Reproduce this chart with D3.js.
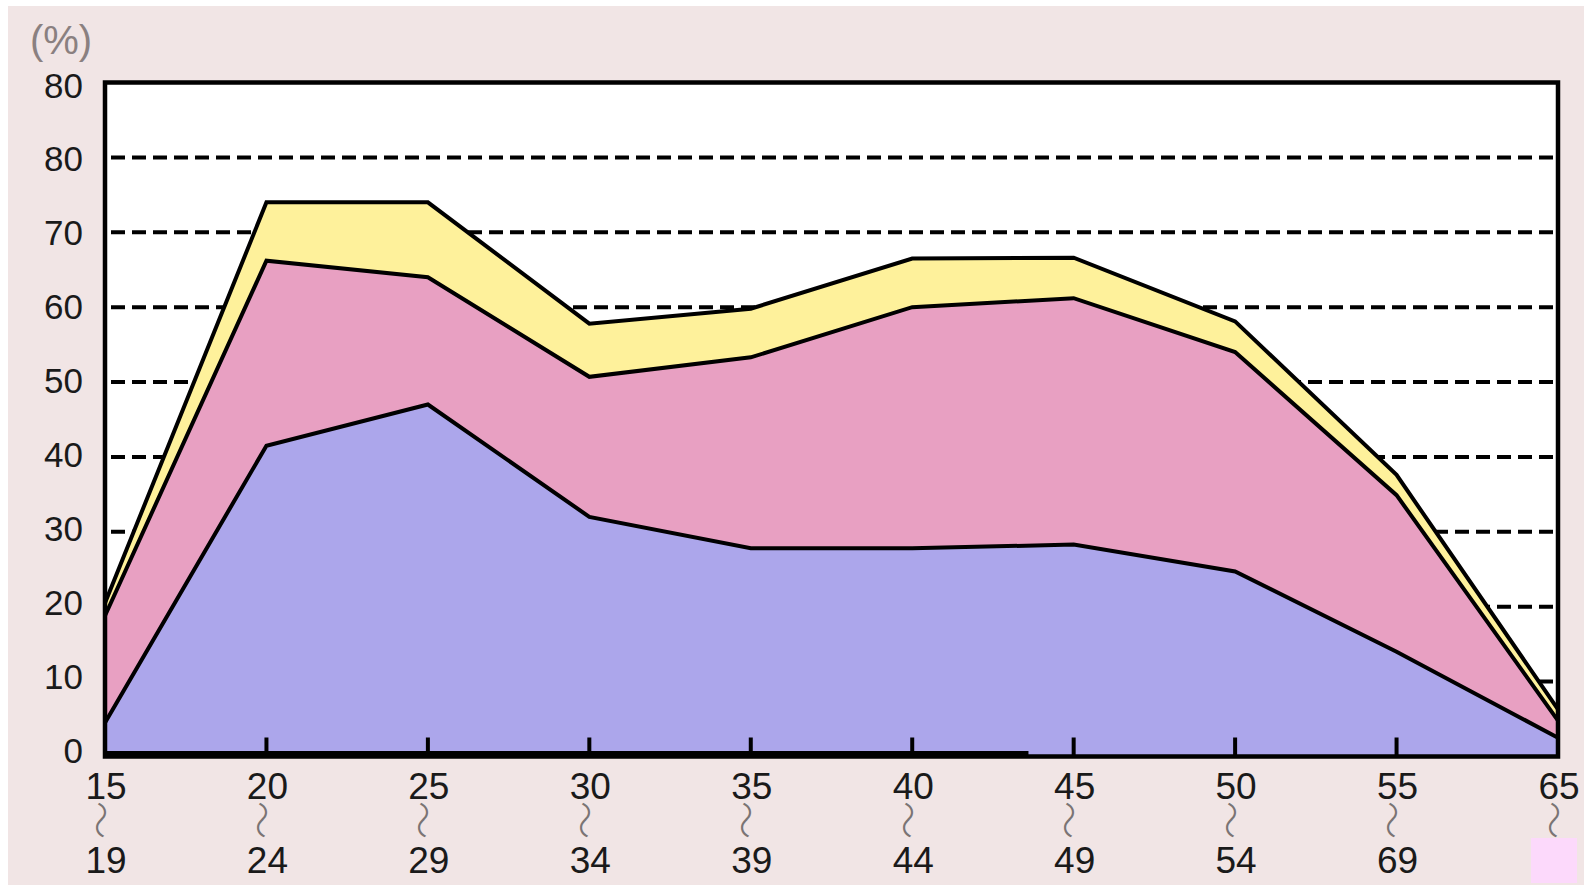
<!DOCTYPE html>
<html>
<head>
<meta charset="utf-8">
<script src="https://cdn.jsdelivr.net/npm/d3@7/dist/d3.min.js"></script>
<style>
  html, body { margin: 0; padding: 0; background: #ffffff; }
  svg { display: block; }
</style>
</head>
<body>
<svg id="chart" width="1584" height="887"></svg>
<script>
// ---- data ----
const categories   = ["15", "20", "25", "30", "35", "40", "45", "50", "55", "65"];
const endLabels    = ["19", "24", "29", "34", "39", "44", "49", "54", "69", ""];
const seriesKeys   = ["blue", "pink", "yellow"];
const blueValues   = [4.5, 41.5, 47.0, 32.0, 27.8, 27.8, 28.3, 24.7, 14.0, 2.5];
const pinkValues   = [14.3, 24.7, 17.0, 18.7, 25.5, 32.2, 32.9, 29.3, 20.9, 2.3];
const yellowValues = [1.7, 7.8, 10.0, 7.1, 6.5, 6.5, 5.4, 4.1, 2.7, 1.5];
const yTickValues  = [0, 10, 20, 30, 40, 50, 60, 70, 80, 90];
const yTickLabels  = ["0", "10", "20", "30", "40", "50", "60", "70", "80", "80"];
const gridValues   = [10, 20, 30, 40, 50, 60, 70, 80];
const unitLabel    = "(%)";

const colors = { blue: "#aca6eb", pink: "#e8a0c2", yellow: "#fef19b" };

const rows = categories.map((c, i) => ({
  cat: c, blue: blueValues[i], pink: pinkValues[i], yellow: yellowValues[i]
}));

const svg = d3.select("#chart");

// background
svg.append("rect").attr("x", 8).attr("y", 6).attr("width", 1576).attr("height", 879)
  .attr("fill", "#f1e5e5");

// scales
const x = d3.scalePoint().domain(categories).range([105, 1558]);
const y = d3.scaleLinear().domain([0, 90]).range([756.5, 82.5]);
const yLab = d3.scaleLinear().domain([0, 90]).range([750, 85]);

// plot area
svg.append("rect")
  .attr("x", x(categories[0])).attr("y", y(90))
  .attr("width", x(categories[categories.length - 1]) - x(categories[0]))
  .attr("height", y(0) - y(90))
  .attr("fill", "#ffffff");

// grid lines (behind areas)
svg.append("g").selectAll("line").data(gridValues).join("line")
  .attr("x1", x(categories[0])).attr("x2", x(categories[categories.length - 1]))
  .attr("y1", d => y(d)).attr("y2", d => y(d))
  .attr("stroke", "#000").attr("stroke-width", 4)
  .attr("stroke-dasharray", "14,7").attr("stroke-dashoffset", -6);

// stacked areas
const stack = d3.stack().keys(seriesKeys);
const layers = stack(rows);

const area = d3.area()
  .x(d => x(d.data.cat))
  .y0(y(0))
  .y1(d => y(d[1]));
const line = d3.line()
  .x(d => x(d.data.cat))
  .y(d => y(d[1]));

const order = [...layers].reverse();
svg.append("g").selectAll("path").data(order).join("path")
  .attr("d", area)
  .attr("fill", d => colors[d.key]);

svg.append("g").selectAll("path").data(order).join("path")
  .attr("d", line)
  .attr("fill", "none")
  .attr("stroke", "#000")
  .attr("stroke-width", 4)
  .attr("stroke-linejoin", "miter");

// frame
svg.append("rect")
  .attr("x", x(categories[0])).attr("y", y(90))
  .attr("width", x(categories[categories.length - 1]) - x(categories[0]))
  .attr("height", y(0) - y(90))
  .attr("fill", "none").attr("stroke", "#000").attr("stroke-width", 4.5);

// thicker bottom segment (as in the original)
const thickEnd = x(categories[0]) + (x(categories[1]) - x(categories[0])) * 5.72;
svg.append("line")
  .attr("x1", x(categories[0])).attr("x2", thickEnd)
  .attr("y1", y(0) - 3).attr("y2", y(0) - 3)
  .attr("stroke", "#000").attr("stroke-width", 5);

// ticks on bottom axis
svg.append("g").selectAll("line").data(categories.slice(1, -1)).join("line")
  .attr("x1", d => x(d)).attr("x2", d => x(d))
  .attr("y1", y(0)).attr("y2", y(0) - 19)
  .attr("stroke", "#000").attr("stroke-width", 4);

// y labels
svg.append("g").selectAll("text").data(yTickValues).join("text")
  .attr("x", 83)
  .attr("y", d => yLab(d) + 12.5)
  .attr("text-anchor", "end")
  .attr("font-family", "Liberation Sans, Arial, sans-serif")
  .attr("font-size", 35)
  .attr("fill", "#1a1a1a")
  .text((d, i) => yTickLabels[i]);

// unit label
svg.append("text")
  .attr("x", 61).attr("y", 54)
  .attr("text-anchor", "middle")
  .attr("font-family", "Liberation Sans, Arial, sans-serif")
  .attr("font-size", 40)
  .attr("fill", "#8a8080")
  .text(unitLabel);

// x labels
const xg = svg.append("g")
  .attr("font-family", "Liberation Sans, Arial, sans-serif")
  .attr("fill", "#1a1a1a");
xg.selectAll("text.top").data(categories).join("text")
  .attr("class", "top")
  .attr("x", d => x(d) + 1)
  .attr("y", 799)
  .attr("text-anchor", "middle")
  .attr("font-size", 37)
  .text(d => d);
xg.selectAll("text.wave").data(categories).join("text")
  .attr("class", "wave")
  .attr("transform", d => `translate(${x(d) - 2},820) rotate(90)`)
  .attr("text-anchor", "middle")
  .attr("dominant-baseline", "central")
  .style("font-family", "'Noto Sans CJK JP', sans-serif")
  .style("font-weight", 200)
  .attr("font-size", 38)
  .attr("fill", "#7a7474")
  .text("〜");
xg.selectAll("text.bot").data(endLabels).join("text")
  .attr("class", "bot")
  .attr("x", (d, i) => x(categories[i]) + 1)
  .attr("y", 873)
  .attr("text-anchor", "middle")
  .attr("font-size", 37)
  .text(d => d);

// pink box in place of last end label
svg.append("rect")
  .attr("x", x(categories[categories.length - 1]) - 27).attr("y", 838)
  .attr("width", 46).attr("height", 45)
  .attr("fill", "#fcd9fb");
</script>
</body>
</html>
